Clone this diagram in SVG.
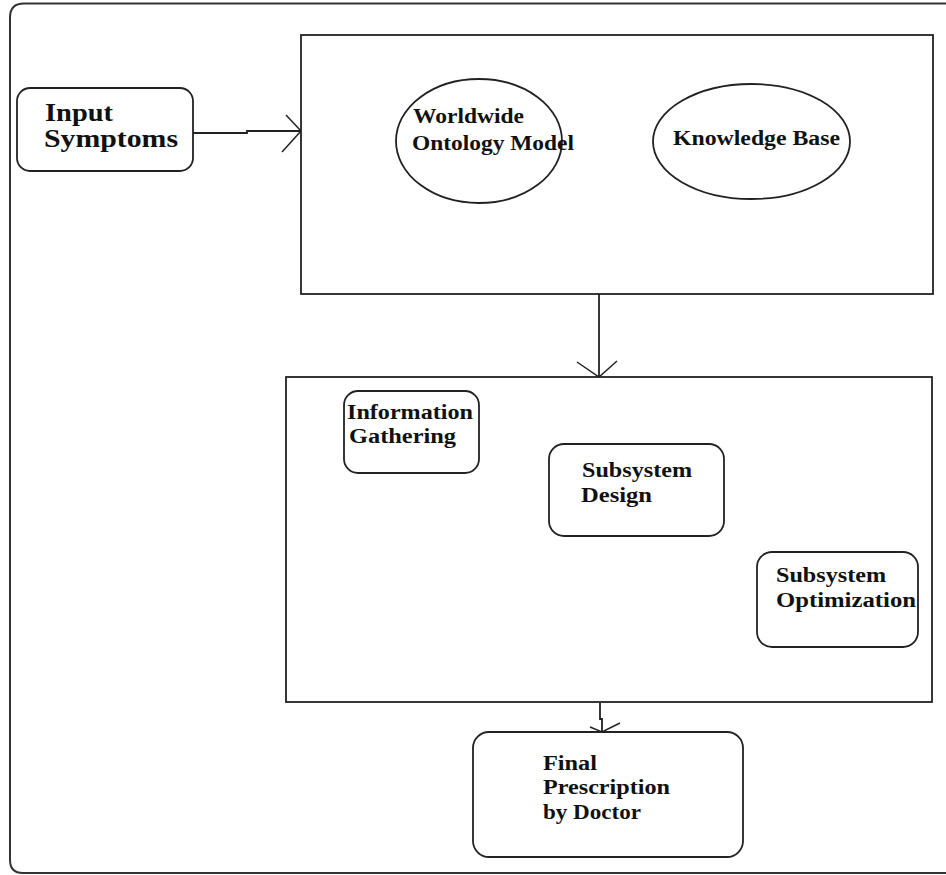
<svg xmlns="http://www.w3.org/2000/svg" width="946" height="875" viewBox="0 0 946 875">
<style>
.box{fill:#fff;stroke:#222;stroke-width:1.8}
.ln{fill:none;stroke:#222;stroke-width:1.8}
.hd{fill:none;stroke:#222;stroke-width:1.5}
text{font-family:"Liberation Serif","Times New Roman",serif;font-weight:bold;fill:#111;font-size:20px}
.big{font-size:25px}
</style>
<rect x="0" y="0" width="946" height="875" fill="#fff"/>
<path d="M946 3.5 H24 Q10 3.5 10 17.5 V860 Q10 873 23 873 H946" fill="none" stroke="#333" stroke-width="2"/>
<g id="connectors">
  <path class="ln" d="M193 133 H247 V131 H301"/>
  <path class="hd" d="M286 115 L301 131 L282 152"/>
  <path class="ln" d="M599 294 V377"/>
  <path class="hd" d="M577 362 L599 377 L617 361"/>
  <path class="ln" d="M600 703 V719 H602 V732"/>
  <path class="hd" d="M590 727 L602 732 L620 723"/>
</g>
<g id="input-symptoms">
  <rect class="box" x="17" y="88" width="176" height="83" rx="13"/>
  <text class="big" x="45" y="121" textLength="68" lengthAdjust="spacingAndGlyphs">Input</text>
  <text class="big" x="44" y="147" textLength="134" lengthAdjust="spacingAndGlyphs">Symptoms</text>
</g>
<g id="knowledge-system">
  <rect class="box" x="301" y="35" width="632" height="259"/>
</g>
<g id="worldwide-ontology">
  <ellipse class="box" cx="479" cy="141" rx="83" ry="62"/>
  <text x="413" y="123" textLength="111" lengthAdjust="spacingAndGlyphs">Worldwide</text>
  <text x="412" y="150" textLength="162" lengthAdjust="spacingAndGlyphs">Ontology Model</text>
</g>
<g id="knowledge-base">
  <ellipse class="box" cx="751.5" cy="141.5" rx="98.5" ry="57.5"/>
  <text x="673" y="145" textLength="167" lengthAdjust="spacingAndGlyphs">Knowledge Base</text>
</g>
<g id="processing-system">
  <rect class="box" x="286" y="377" width="646" height="325"/>
</g>
<g id="information-gathering">
  <rect class="box" x="344" y="391" width="135" height="82" rx="14"/>
  <text x="347" y="419" textLength="126" lengthAdjust="spacingAndGlyphs">Information</text>
  <text x="349" y="443" textLength="107" lengthAdjust="spacingAndGlyphs">Gathering</text>
</g>
<g id="subsystem-design">
  <rect class="box" x="549" y="444" width="175" height="92" rx="15"/>
  <text x="582" y="477" textLength="110" lengthAdjust="spacingAndGlyphs">Subsystem</text>
  <text x="581" y="502" textLength="71" lengthAdjust="spacingAndGlyphs">Design</text>
</g>
<g id="subsystem-optimization">
  <rect class="box" x="757" y="552" width="161" height="95" rx="15"/>
  <text x="776" y="582" textLength="110" lengthAdjust="spacingAndGlyphs">Subsystem</text>
  <text x="776" y="607" textLength="140" lengthAdjust="spacingAndGlyphs">Optimization</text>
</g>
<g id="final-prescription">
  <rect class="box" x="473" y="732" width="270" height="125" rx="16"/>
  <text x="543" y="770" textLength="54" lengthAdjust="spacingAndGlyphs">Final</text>
  <text x="543" y="794" textLength="127" lengthAdjust="spacingAndGlyphs">Prescription</text>
  <text x="543" y="819" textLength="98" lengthAdjust="spacingAndGlyphs">by Doctor</text>
</g>
</svg>
